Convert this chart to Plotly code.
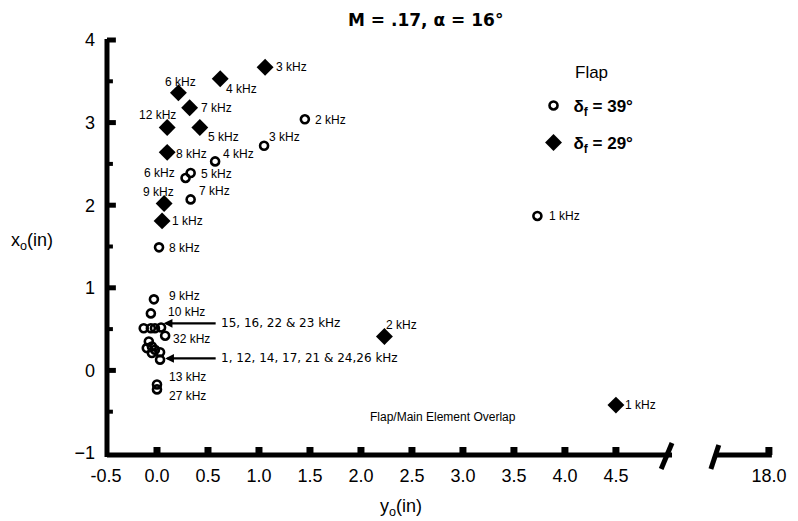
import plotly.graph_objects as go

# ---------------- data ----------------
# flap deflection 39 deg (open circles): y_o (horizontal), x_o (vertical)
c39_labels = ["2 kHz", "3 kHz", "4 kHz", "5 kHz", "6 kHz", "7 kHz", "8 kHz", "1 kHz",
              "9 kHz", "10 kHz", "32 kHz", "13 kHz", "27 kHz"]
c39_yo = [1.45, 1.05, 0.57, 0.33, 0.28, 0.33, 0.02, 3.73, -0.03, -0.06, 0.08, 0.0, 0.0]
c39_xo = [3.04, 2.72, 2.53, 2.39, 2.33, 2.07, 1.49, 1.87, 0.86, 0.69, 0.42, -0.17, -0.23]

# group "15, 16, 22 & 23 kHz"
grpA_yo = [-0.13, -0.06, -0.02, 0.04]
grpA_xo = [0.51, 0.51, 0.51, 0.52]
# group "1, 12, 14, 17, 21 & 24,26 kHz"
grpB_yo = [-0.08, -0.05, -0.10, -0.02, -0.05, 0.03, 0.03]
grpB_xo = [0.35, 0.29, 0.27, 0.25, 0.21, 0.22, 0.13]

# flap deflection 29 deg (filled diamonds)
d29_labels = ["3 kHz", "4 kHz", "6 kHz", "7 kHz", "12 kHz", "5 kHz", "8 kHz", "9 kHz",
              "1 kHz", "2 kHz", "1 kHz"]
d29_yo = [1.06, 0.62, 0.21, 0.32, 0.10, 0.42, 0.10, 0.07, 0.05, 2.23, 4.50]
d29_xo = [3.67, 3.53, 3.36, 3.18, 2.94, 2.94, 2.64, 2.02, 1.81, 0.41, -0.42]

grpA_text = "15, 16, 22 & 23 kHz"
grpB_text = "1, 12, 14, 17, 21 & 24,26 kHz"

x_tickvals = [-0.5, 0.0, 0.5, 1.0, 1.5, 2.0, 2.5, 3.0, 3.5, 4.0, 4.5, 6.0]
x_ticktext = ["-0.5", "0.0", "0.5", "1.0", "1.5", "2.0", "2.5", "3.0", "3.5", "4.0", "4.5", "18.0"]
y_tickvals = [-1, 0, 1, 2, 3, 4]
y_minorvals = [-0.5, 0.5, 1.5, 2.5, 3.5]

# ---------------- styling / label offsets (pixels) ----------------
# (xanchor, xshift, yshift)
c39_off = [("left", 8, -1), ("left", 3, 9), ("left", 6, 7), ("left", 8, -1), ("right", -9, 5),
           ("left", 6, 8), ("left", 8, -1), ("left", 10, 0), ("left", 13, 3), ("left", 15, 1),
           ("left", 6, -3), ("left", 10, 7), ("left", 10, -7)]
d29_off = [("left", 9, 0), ("left", 4, -10), ("center", 2, 11), ("left", 9, 0), ("right", 11, 13),
           ("left", 6, -9), ("left", 7, -2), ("right", 12, 12), ("left", 8, 0), ("left", 0, 12),
           ("left", 7, 0)]

XR = [-0.5, 6.05]
YR = [-1, 4]
W, H = 790, 513
ML, MR, MT, MB = 98, 15, 32, 68
PW, PH = W - ML - MR, H - MT - MB   # plot area in pixels

LBL_FONT = dict(family="Liberation Sans Narrow, Arial Narrow, Liberation Sans, sans-serif", size=12, color="black")
BIG_FONT = dict(family="Liberation Sans, Arial, sans-serif", size=18, color="black")

fig = go.Figure()

circ_marker = dict(symbol="circle-open", size=8, color="black", line=dict(width=2.6, color="black"))
diam_marker = dict(symbol="diamond", size=13, color="black", line=dict(width=0))

fig.add_trace(go.Scatter(x=c39_yo + grpA_yo + grpB_yo, y=c39_xo + grpA_xo + grpB_xo,
                         mode="markers", marker=circ_marker, cliponaxis=False,
                         name="<b>δ<sub>f</sub> = 39°</b>", legendgroup="a"))
fig.add_trace(go.Scatter(x=d29_yo, y=d29_xo, mode="markers", marker=diam_marker, cliponaxis=False,
                         name="<b>δ<sub>f</sub> = 29°</b>", legendgroup="b"))

ann = []
for lab, xv, yv, (xa, dx, dy) in zip(c39_labels, c39_yo, c39_xo, c39_off):
    ann.append(dict(x=xv, y=yv, text=lab, showarrow=False, xanchor=xa, yanchor="middle",
                    xshift=dx, yshift=dy, font=LBL_FONT))
for lab, xv, yv, (xa, dx, dy) in zip(d29_labels, d29_yo, d29_xo, d29_off):
    ann.append(dict(x=xv, y=yv, text=lab, showarrow=False, xanchor=xa, yanchor="middle",
                    xshift=dx, yshift=dy, font=LBL_FONT))

# arrows to the clusters
for tip_x, tip_y, tail_x, txt in [(0.065, 0.57, 0.59, grpA_text), (0.08, 0.145, 0.59, grpB_text)]:
    ann.append(dict(x=tip_x, y=tip_y, ax=tail_x, ay=tip_y, axref="x", ayref="y", text="",
                    showarrow=True, arrowhead=2, arrowsize=0.8, arrowwidth=2.2, arrowcolor="black"))
    ann.append(dict(x=tail_x, y=tip_y, text=txt, showarrow=False, xanchor="left", yanchor="middle",
                    xshift=2, font=dict(family="DejaVu Sans, Liberation Sans, sans-serif", size=12, color="black")))

ann.append(dict(x=2.8, y=-0.57, text="Flap/Main Element Overlap", showarrow=False,
                xanchor="center", yanchor="middle",
                font=dict(family="Liberation Sans Narrow, Arial Narrow, Liberation Sans, sans-serif", size=12, color="black")))

# titles
def t_ann(x, y, text, font, yanchor="middle"):
    return dict(xref="paper", yref="paper", x=x, y=y, text=text, showarrow=False,
                xanchor="center", yanchor=yanchor, font=font)

ann.append(t_ann(0.478, 1.0775, "<b>M = .17, α = 16°</b>",
                 dict(family="DejaVu Sans, Liberation Sans, sans-serif", size=17, color="black"), "top"))
ann.append(t_ann(0.441, -0.133, "y<sub>o</sub>(in)", BIG_FONT))
ann.append(t_ann(-0.111, 0.511, "x<sub>o</sub>(in)", BIG_FONT))
ann.append(t_ann(0.727, 0.922, "Flap", dict(family="Liberation Sans, Arial, sans-serif", size=17, color="black")))

def fx(d):
    return (d - XR[0]) / (XR[1] - XR[0])

def fy(d):
    return (d - YR[0]) / (YR[1] - YR[0])

AX = dict(color="black", width=5)
shapes = []
x_line_y = -2 / PH
y_line_x = 1 / PW
brk_l, brk_r = 5.05, 5.47
# y axis line
shapes.append(dict(type="line", xref="paper", yref="paper", x0=y_line_x, x1=y_line_x,
                   y0=x_line_y - 2 / PH, y1=1.0 + 1 / PH, line=AX))
# x axis line, with a break
shapes.append(dict(type="line", xref="paper", yref="paper", x0=y_line_x, x1=fx(brk_l),
                   y0=x_line_y, y1=x_line_y, line=AX))
shapes.append(dict(type="line", xref="paper", yref="paper", x0=fx(brk_r), x1=fx(x_tickvals[-1]) + 3 / PW,
                   y0=x_line_y, y1=x_line_y, line=AX))
# break marks
shapes.append(dict(type="line", xref="paper", yref="paper", x0=fx(brk_l), x1=fx(brk_l) - 11 / PW,
                   y0=x_line_y + 12 / PH, y1=x_line_y - 14 / PH, line=AX))
shapes.append(dict(type="line", xref="paper", yref="paper", x0=fx(brk_r) + 4 / PW, x1=fx(brk_r) - 4 / PW,
                   y0=x_line_y + 10 / PH, y1=x_line_y - 14 / PH, line=AX))
# x ticks (pointing up)
for v in x_tickvals[1:]:
    shapes.append(dict(type="line", xref="paper", yref="paper", x0=fx(v), x1=fx(v),
                       y0=x_line_y, y1=x_line_y + 8 / PH, line=dict(color="black", width=7)))
# y ticks (pointing right)
for v in y_tickvals[1:]:
    shapes.append(dict(type="line", xref="paper", yref="paper", x0=y_line_x, x1=y_line_x + 9 / PW,
                       y0=fy(v), y1=fy(v), line=dict(color="black", width=5)))
for v in y_minorvals:
    shapes.append(dict(type="line", xref="paper", yref="paper", x0=y_line_x, x1=y_line_x + 6 / PW,
                       y0=fy(v), y1=fy(v), line=dict(color="black", width=4)))

fig.update_layout(
    width=W, height=H,
    margin=dict(l=ML, r=MR, t=MT, b=MB),
    paper_bgcolor="white", plot_bgcolor="white",
    showlegend=True,
    legend=dict(x=0.640, y=0.884, xanchor="left", yanchor="top", tracegroupgap=12,
                font=dict(family="Liberation Sans, Arial, sans-serif", size=17, color="black"),
                bgcolor="rgba(0,0,0,0)"),
    annotations=ann, shapes=shapes,
)
fig.update_xaxes(range=XR, showgrid=False, zeroline=False, showline=False,
                 tickvals=x_tickvals, ticktext=x_ticktext, ticks="",
                 tickfont=BIG_FONT, ticklabelstandoff=10)
fig.update_yaxes(range=YR, showgrid=False, zeroline=False, showline=False,
                 tickvals=y_tickvals, ticks="", tickfont=BIG_FONT, ticklabelstandoff=10)

fig.write_html("out.html")
